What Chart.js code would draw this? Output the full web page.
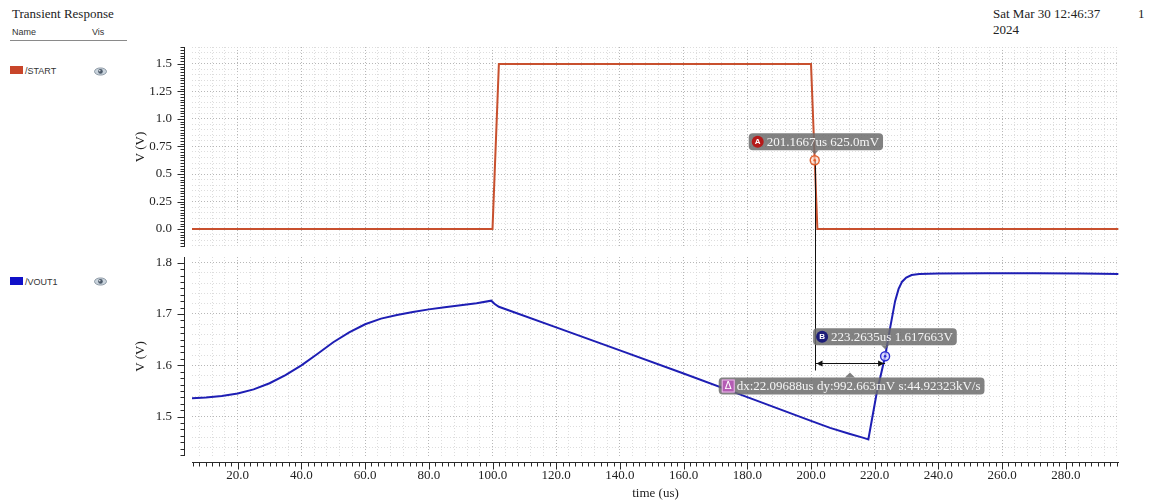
<!DOCTYPE html>
<html><head><meta charset="utf-8">
<script src="https://cdn.jsdelivr.net/npm/chart.js@4.4.1/dist/chart.umd.min.js"></script>
<style>
html,body{margin:0;padding:0;background:#fff;width:1149px;height:501px;overflow:hidden;}
.t{position:absolute;font-family:"Liberation Serif",serif;font-size:13px;color:#222;white-space:nowrap;line-height:1}
.s{position:absolute;font-family:"Liberation Sans",Arial,sans-serif;font-size:9px;color:#333;white-space:nowrap;line-height:1}
canvas{position:absolute;left:0;top:0}
.sw{position:absolute;width:13px;height:8px}
</style></head><body>
<div class="t" style="left:12px;top:7px">Transient Response</div>
<div class="s" style="left:12px;top:28px">Name</div>
<div class="s" style="left:92px;top:28px">Vis</div>
<div style="position:absolute;left:10px;top:40px;width:117px;height:1px;background:#8a8a8a"></div>
<div class="sw" style="left:10px;top:66px;background:#c8452a"></div>
<div class="s" style="left:25px;top:67px">/START</div>
<svg style="position:absolute;left:94px;top:67px" width="13" height="9" viewBox="0 0 13 9"><ellipse cx="6.5" cy="4.5" rx="6" ry="3.6" fill="#c9d3dc" stroke="#7a8896" stroke-width="0.8"/><circle cx="6.5" cy="4.4" r="2.3" fill="#4c5a6a"/><circle cx="5.8" cy="3.7" r="0.7" fill="#fff"/></svg>
<div class="sw" style="left:10px;top:277px;background:#1010c8"></div>
<div class="s" style="left:25px;top:278px">/VOUT1</div>
<svg style="position:absolute;left:94px;top:277px" width="13" height="9" viewBox="0 0 13 9"><ellipse cx="6.5" cy="4.5" rx="6" ry="3.6" fill="#c9d3dc" stroke="#7a8896" stroke-width="0.8"/><circle cx="6.5" cy="4.4" r="2.3" fill="#4c5a6a"/><circle cx="5.8" cy="3.7" r="0.7" fill="#fff"/></svg>
<div class="t" style="left:993px;top:7px">Sat Mar 30 12:46:37</div>
<div class="t" style="left:993px;top:23px">2024</div>
<div class="t" style="left:1138px;top:7px">1</div>
<canvas id="c1" width="1149" height="501"></canvas>
<canvas id="c2" width="1149" height="501"></canvas>
<script>
// ---------- data ----------
const startTime  = [5.65, 100.0, 102.0, 200.0, 202.0, 296.5];
const startVolts = [0.0, 0.0, 1.5, 1.5, 0.0, 0.0];

const voutTime  = [5.65, 10.0, 15.0, 20.0, 25.0, 30.0, 35.0, 40.0, 45.0, 50.0, 55.0, 60.0, 65.0, 70.0, 75.0, 80.0, 85.0, 90.0, 95.0,
                   99.6, 100.6, 102.0, 120.0, 140.0, 160.0, 180.0, 200.0, 206.0, 212.0, 216.5, 217.5, 218.0, 219.0, 220.6,
                   223.2635, 224.9, 226.4, 227.5, 228.6, 229.9, 231.6, 234.0, 240.0, 255.0, 270.0, 285.0, 296.5];
const voutVolts = [1.536, 1.537, 1.540, 1.545, 1.553, 1.565, 1.581, 1.600, 1.622, 1.645, 1.664, 1.680, 1.691, 1.698, 1.704, 1.709, 1.713, 1.717, 1.721,
                   1.726, 1.720, 1.714, 1.674, 1.629, 1.584, 1.538, 1.4916, 1.478, 1.4665, 1.4585, 1.4565, 1.4555, 1.49, 1.545,
                   1.617663, 1.675, 1.725, 1.749, 1.763, 1.771, 1.776, 1.778, 1.779, 1.7795, 1.7795, 1.779, 1.778];

const xTickLabels    = ['20.0','40.0','60.0','80.0','100.0','120.0','140.0','160.0','180.0','200.0','220.0','240.0','260.0','280.0'];
const topYTickLabels = ['0.0','0.25','0.5','0.75','1.0','1.25','1.5'];
const botYTickLabels = ['1.5','1.6','1.7','1.8'];

const markerA = {t: 201.1667, v: 0.625, text: '201.1667us 625.0mV'};
const markerB = {t: 223.2635, v: 1.617663, text: '223.2635us 1.617663V'};
const deltaText = 'dx:22.09688us dy:992.663mV s:44.92323kV/s';

// ---------- helpers ----------
const SERIF = '"Liberation Serif", "Times New Roman", serif';
function labelFor(v, labels){ for (const l of labels){ if (Math.abs(parseFloat(l) - v) < 1e-6) return l; } return ''; }
function pts(ts, vs){ return ts.map((t,i)=>({x:t, y:vs[i]})); }

const axisDeco = {
  id: 'axisDeco',
  afterDraw(chart, args, o) {
    const ctx = chart.ctx, a = chart.chartArea, ys = chart.scales.y;
    ctx.save(); ctx.strokeStyle = '#2a2a2a'; ctx.lineWidth = 1; ctx.beginPath();
    const ax = Math.round(a.left - 8) + 0.5;
    ctx.moveTo(ax, a.top); ctx.lineTo(ax, a.bottom);
    for (let n = Math.ceil(ys.min / o.yMinor - 1e-9); n * o.yMinor <= ys.max + 1e-9; n++) {
      const v = n * o.yMinor;
      const py = Math.round(ys.getPixelForValue(v)) + 0.5;
      const len = labelFor(v, o.yLabels) ? 7 : 4;
      ctx.moveTo(ax, py); ctx.lineTo(ax - len, py);
    }
    if (o.xAxis) {
      const xs = chart.scales.x; const yy = Math.round(a.bottom + 6) + 0.5;
      ctx.moveTo(a.left, yy); ctx.lineTo(a.right, yy);
      for (let n = Math.ceil(xs.min / o.xMinor - 1e-9); n * o.xMinor <= xs.max + 1e-9; n++) {
        const v = n * o.xMinor;
        const px = Math.round(xs.getPixelForValue(v)) + 0.5;
        const len = labelFor(v, xTickLabels) ? 7 : 4;
        ctx.moveTo(px, yy); ctx.lineTo(px, yy + len);
      }
    }
    ctx.stroke(); ctx.restore();
  }
};

function gridColor(labels){
  return c => (c.tick && labelFor(c.tick.value, labels)) ? 'rgba(175,175,175,0.9)' : 'rgba(215,215,215,0.85)';
}

function xScale(showLabels){
  return {
    type: 'linear', min: 5.65, max: 296.7,
    ticks: {display: showLabels, stepSize: 4, autoSkip: false, maxRotation: 0, maxTicksLimit: 1000, includeBounds: false,
            padding: 12, color: '#222', font: {family: SERIF, size: 13},
            callback: v => labelFor(v, xTickLabels)},
    grid: {drawTicks: false, color: gridColor(xTickLabels), lineWidth: 1},
    border: {display: false, dash: [1, 2]},
    title: {display: showLabels, text: 'time (us)', color: '#222', font: {family: SERIF, size: 13}, padding: {top: 0, bottom: 0}},
    afterFit: s => { s.height = showLabels ? 45 : 0; }
  };
}
function yScale(min, max, step, labels){
  return {
    type: 'linear', min: min, max: max,
    ticks: {stepSize: step, autoSkip: false, maxTicksLimit: 1000, includeBounds: false, padding: 20,
            color: '#222', font: {family: SERIF, size: 13}, callback: v => labelFor(v, labels)},
    grid: {drawTicks: false, color: gridColor(labels), lineWidth: 1},
    border: {display: false, dash: [1, 2]},
    title: {display: true, text: 'V (V)', color: '#222', font: {family: SERIF, size: 13}, padding: {top: 133, bottom: 0}},
    afterFit: s => { s.width = 192; }
  };
}

const common = {responsive: false, animation: false, events: [], devicePixelRatio: 1,
                plugins: {legend: {display: false}, tooltip: {enabled: false}}};

const topChart = new Chart(document.getElementById('c1'), {
  type: 'line',
  data: {datasets: [{label: '/START', data: pts(startTime, startVolts), borderColor: '#c8502e', borderWidth: 2,
                     pointRadius: 0, tension: 0}]},
  options: Object.assign({}, common, {
    layout: {padding: {left: 0, top: 47, right: 30, bottom: 254}},
    scales: {x: xScale(false), y: yScale(-0.1636, 1.6545, 0.05, topYTickLabels)},
    plugins: Object.assign({}, common.plugins, {axisDeco: {yMinor: 0.025, yLabels: topYTickLabels, xAxis: false}})
  }),
  plugins: [axisDeco]
});

function roundRect(ctx, x, y, w, h, r){
  ctx.beginPath(); ctx.moveTo(x + r, y); ctx.lineTo(x + w - r, y); ctx.quadraticCurveTo(x + w, y, x + w, y + r);
  ctx.lineTo(x + w, y + h - r); ctx.quadraticCurveTo(x + w, y + h, x + w - r, y + h);
  ctx.lineTo(x + r, y + h); ctx.quadraticCurveTo(x, y + h, x, y + h - r);
  ctx.lineTo(x, y + r); ctx.quadraticCurveTo(x, y, x + r, y); ctx.closePath();
}
function tag(ctx, left, top, text, badge, pointer){
  ctx.font = '13px ' + SERIF;
  const tw = ctx.measureText(text).width;
  const w = 19 + tw + 3, h = 17;
  ctx.fillStyle = 'rgba(108,108,108,0.85)';
  roundRect(ctx, left, top, w, h, 4); ctx.fill();
  if (pointer) {
    ctx.beginPath();
    if (pointer.dir === 'down') { ctx.moveTo(pointer.x - 4, top + h); ctx.lineTo(pointer.x, top + h + 4); ctx.lineTo(pointer.x + 4, top + h); }
    else { ctx.moveTo(pointer.x - 5, top); ctx.lineTo(pointer.x, top - 5); ctx.lineTo(pointer.x + 5, top); }
    ctx.closePath(); ctx.fill();
  }
  const cy = top + h / 2;
  if (badge.shape === 'square') {
    ctx.fillStyle = badge.color; ctx.fillRect(left + 3, top + 2, 13, 13);
    ctx.strokeStyle = '#e8c0e8'; ctx.lineWidth = 1; ctx.strokeRect(left + 3.5, top + 2.5, 12, 12);
  } else {
    ctx.fillStyle = badge.color; ctx.beginPath(); ctx.arc(left + 9, cy, 6, 0, Math.PI * 2); ctx.fill();
  }
  ctx.fillStyle = '#fff'; ctx.textAlign = 'center'; ctx.textBaseline = 'middle';
  ctx.font = 'bold 8px "Liberation Sans", sans-serif';
  if (badge.shape === 'square') { ctx.font = '10px "DejaVu Sans", sans-serif'; ctx.fillText(badge.ch, left + 9.5, cy + 0.5); }
  else ctx.fillText(badge.ch, left + 9, cy + 0.5);
  ctx.textAlign = 'left'; ctx.font = '13px ' + SERIF; ctx.fillStyle = '#f6f6f6';
  ctx.fillText(text, left + 18, cy + 1);
}
function marker(ctx, x, y, stroke, fill){
  ctx.beginPath(); ctx.arc(x, y, 4.5, 0, Math.PI * 2); ctx.fillStyle = fill; ctx.fill();
  ctx.lineWidth = 1.4; ctx.strokeStyle = stroke; ctx.stroke();
  ctx.beginPath(); ctx.arc(x, y, 1.3, 0, Math.PI * 2); ctx.fillStyle = stroke; ctx.fill();
}

const annotations = {
  id: 'annotations',
  afterDraw(chart){
    const ctx = chart.ctx;
    const ax = topChart.scales.x.getPixelForValue(markerA.t), ay = topChart.scales.y.getPixelForValue(markerA.v);
    const bx = chart.scales.x.getPixelForValue(markerB.t), by = chart.scales.y.getPixelForValue(markerB.v);
    const arrowY = Math.round(by + 7) + 0.5;
    ctx.save();
    ctx.strokeStyle = '#111'; ctx.lineWidth = 1;
    const vx = Math.round(ax) + 0.5;
    ctx.beginPath(); ctx.moveTo(vx, ay); ctx.lineTo(vx, arrowY + 7); ctx.stroke();
    ctx.beginPath(); ctx.moveTo(vx, arrowY); ctx.lineTo(bx, arrowY); ctx.stroke();
    ctx.fillStyle = '#111';
    ctx.beginPath(); ctx.moveTo(vx + 1, arrowY); ctx.lineTo(vx + 7, arrowY - 3); ctx.lineTo(vx + 7, arrowY + 3); ctx.closePath(); ctx.fill();
    ctx.beginPath(); ctx.moveTo(bx - 1, arrowY); ctx.lineTo(bx - 7, arrowY - 3); ctx.lineTo(bx - 7, arrowY + 3); ctx.closePath(); ctx.fill();
    marker(ctx, ax, ay, '#e0602e', 'rgba(255,210,190,0.6)');
    marker(ctx, bx, by, '#2c2cd0', 'rgba(205,205,255,0.7)');
    tag(ctx, ax - 66, ay - 27, markerA.text, {shape: 'circle', color: '#b51a1a', ch: 'A'}, {dir: 'down', x: ax});
    tag(ctx, bx - 72, by - 28, markerB.text, {shape: 'circle', color: '#1c1c78', ch: 'B'}, {dir: 'down', x: bx});
    tag(ctx, ax - 96, arrowY + 14, deltaText, {shape: 'square', color: '#b45cb4', ch: 'Δ'}, {dir: 'up', x: (ax + bx) / 2});
    ctx.restore();
  }
};

const botChart = new Chart(document.getElementById('c2'), {
  type: 'line',
  data: {datasets: [{label: '/VOUT1', data: pts(voutTime, voutVolts), borderColor: '#1e1eb4', borderWidth: 2,
                     pointRadius: 0, tension: 0}]},
  options: Object.assign({}, common, {
    layout: {padding: {left: 0, top: 257, right: 30, bottom: 0}},
    scales: {x: xScale(true), y: yScale(1.4232, 1.8111, 0.02, botYTickLabels)},
    plugins: Object.assign({}, common.plugins, {axisDeco: {yMinor: 0.0125, yLabels: botYTickLabels, xAxis: true, xMinor: 2}})
  }),
  plugins: [axisDeco, annotations]
});
</script>
</body></html>
